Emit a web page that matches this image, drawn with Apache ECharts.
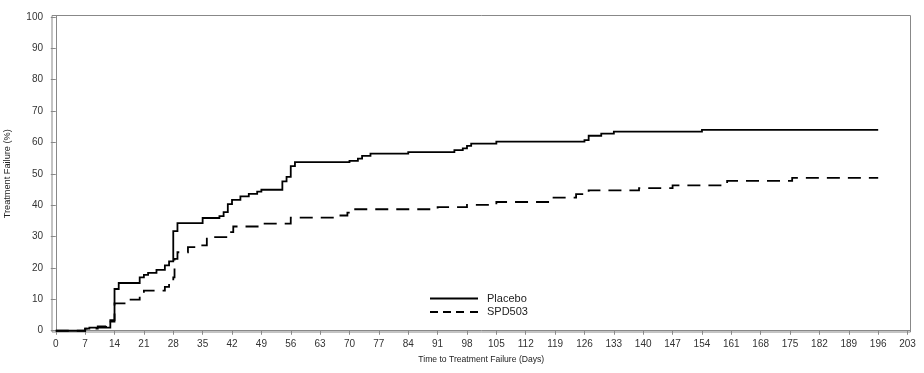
<!DOCTYPE html>
<html>
<head>
<meta charset="utf-8">
<script src="https://cdn.jsdelivr.net/npm/echarts@6/dist/echarts.min.js"></script>
<style>html,body{margin:0;padding:0;background:#fff}#c{width:924px;height:373px}</style>
</head>
<body>
<div id="c"></div>
<script>
const xTicks = [0,7,14,21,28,35,42,49,56,63,70,77,84,91,98,105,112,119,126,133,140,147,154,161,168,175,182,189,196,203];
const yTicks = [0,10,20,30,40,50,60,70,80,90,100];
const placeboDays = [0,7,8,13,14,15,20,21,22,24,26,27,28,29,35,39,40,41,42,44,46,48,49,54,55,56,57,70,72,73,75,84,95,97,98,99,105,126,127,130,133,154,196];
const placeboVals = [0,0.7,1.0,3.4,13.3,15.2,17,17.8,18.4,19.4,20.8,22.1,31.7,34.3,35.9,36.5,37.8,40.3,41.7,42.8,43.6,44.3,44.9,47.6,49,52.4,53.7,54.1,54.8,55.7,56.4,56.9,57.5,58.1,58.9,59.6,60.2,60.7,62.1,62.8,63.4,64.0,64.0];
const spdDays = [0,7,10,12,14,17.5,20,21,26,27,28,28.3,29,31.5,33.5,36,41,42.3,49,56,67,69.5,71,91,98,105,118,124,127,139,147,160,175.5,196];
const spdVals = [0,0.7,1.4,2.9,8.7,9.9,11.3,12.8,14.0,15.0,17,22.9,25,26.6,27.2,29.8,31.4,33.2,34.1,36.0,36.7,37.6,38.7,39.4,40.1,41.0,42.4,43.5,44.7,45.4,46.3,47.7,48.7,48.7];
const seriesNames = ['Placebo','SPD503'];

const zip = (a,b) => a.map((v,i)=>[v,b[i]]);
const chart = echarts.init(document.getElementById('c'), null, {renderer:'canvas'});
const font = 'Arial, "Liberation Sans", sans-serif';
const solidIcon = 'path://M0,0h48v2h-48z';
const dashIcon = 'path://M0,0h8v2h-8z M13,0h8v2h-8z M26,0h8v2h-8z M40,0h8v2h-8z';

// Kaplan-Meier style staircase drawn through the cartesian coordinate system
function stepRenderer(days, vals, dash) {
  return function (params, api) {
    if (params.dataIndex !== 0) return null;
    const pts = [];
    for (let i = 0; i < days.length; i++) {
      pts.push(api.coord([days[i], vals[i]]));
      if (i + 1 < days.length) pts.push(api.coord([days[i + 1], vals[i]]));
    }
    return {
      type: 'polyline',
      shape: { points: pts },
      style: { stroke: '#000', lineWidth: 1.8, fill: null, lineDash: dash, lineJoin: 'miter' }
    };
  };
}

chart.setOption({
  animation:false,
  grid:{left:52,right:13.5,top:15.5,bottom:41,show:true,borderColor:'#888',borderWidth:1,outerBoundsMode:'none',containLabel:false},
  legend:{
    orient:'vertical', left:425, top:288, itemWidth:48, itemHeight:2, itemGap:2.5,
    symbolKeepAspect:false,
    textStyle:{fontFamily:font,fontSize:11,color:'#222',padding:[0,0,0,4]},
    data:[{name:seriesNames[0],icon:solidIcon},{name:seriesNames[1],icon:dashIcon}]
  },
  xAxis:{
    type:'value', min:-0.9, max:203.7,
    name:'Time to Treatment Failure (Days)', nameLocation:'middle', nameGap:23,
    nameTextStyle:{fontFamily:font,fontSize:8.6,color:'#222'},
    axisLine:{show:true,lineStyle:{color:'#888'}},
    axisTick:{show:true,length:4,lineStyle:{color:'#888'},customValues:xTicks},
    axisLabel:{fontFamily:font,fontSize:10,color:'#333',margin:7,customValues:xTicks},
    splitLine:{show:false}
  },
  yAxis:{
    type:'value', min:-0.4, max:100.4,
    name:'Treatment Failure (%)', nameLocation:'middle', nameGap:40, nameRotate:90,
    nameTextStyle:{fontFamily:font,fontSize:9.2,color:'#222'},
    axisLine:{show:true,lineStyle:{color:'#888'}},
    axisTick:{show:true,length:5,lineStyle:{color:'#888'},customValues:yTicks},
    axisLabel:{fontFamily:font,fontSize:10,color:'#333',margin:9,customValues:yTicks},
    splitLine:{show:false}
  },
  series:[
    {name:seriesNames[0],type:'custom',coordinateSystem:'cartesian2d',
     data:zip(placeboDays,placeboVals),encode:{x:0,y:1},itemStyle:{color:'#000'},
     renderItem:stepRenderer(placeboDays,placeboVals,null)},
    {name:seriesNames[1],type:'custom',coordinateSystem:'cartesian2d',
     data:zip(spdDays,spdVals),encode:{x:0,y:1},itemStyle:{color:'#000'},
     renderItem:stepRenderer(spdDays,spdVals,[13,8])}
  ]
});
</script>
</body>
</html>
